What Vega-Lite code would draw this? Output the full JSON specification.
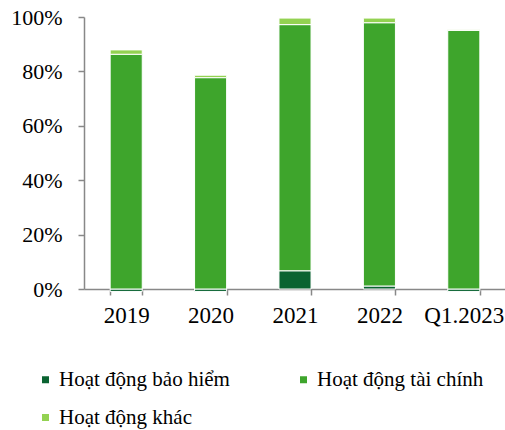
{
  "$schema": "https://vega.github.io/schema/vega-lite/v6.json",
  "width": 422,
  "height": 272,
  "autosize": {"type": "none"},
  "padding": {"left": 84, "top": 17, "right": 0, "bottom": 141},
  "background": "white",
  "config": {
    "view": {"stroke": null},
    "font": "Liberation Serif",
    "legend": {"labelFont": "Liberation Serif"}
  },
  "data": {
    "values": [
      {"year": "2019", "series": "Hoạt động bảo hiểm", "ord": 1, "value": -0.9},
      {"year": "2019", "series": "Hoạt động tài chính", "ord": 2, "value": 86.3},
      {"year": "2019", "series": "Hoạt động khác", "ord": 3, "value": 1.6},
      {"year": "2020", "series": "Hoạt động bảo hiểm", "ord": 1, "value": -0.9},
      {"year": "2020", "series": "Hoạt động tài chính", "ord": 2, "value": 77.7},
      {"year": "2020", "series": "Hoạt động khác", "ord": 3, "value": 0.9},
      {"year": "2021", "series": "Hoạt động bảo hiểm", "ord": 1, "value": 6.7},
      {"year": "2021", "series": "Hoạt động tài chính", "ord": 2, "value": 90.5},
      {"year": "2021", "series": "Hoạt động khác", "ord": 3, "value": 2.4},
      {"year": "2022", "series": "Hoạt động bảo hiểm", "ord": 1, "value": 1.1},
      {"year": "2022", "series": "Hoạt động tài chính", "ord": 2, "value": 96.8},
      {"year": "2022", "series": "Hoạt động khác", "ord": 3, "value": 1.7},
      {"year": "Q1.2023", "series": "Hoạt động bảo hiểm", "ord": 1, "value": -0.9},
      {"year": "Q1.2023", "series": "Hoạt động tài chính", "ord": 2, "value": 95.1},
      {"year": "Q1.2023", "series": "Hoạt động khác", "ord": 3, "value": 0.2}
    ]
  },
  "mark": {"type": "bar", "stroke": "white", "strokeWidth": 1},
  "encoding": {
    "x": {
      "field": "year",
      "type": "ordinal",
      "sort": null,
      "scale": {"paddingInner": 0.62, "paddingOuter": 0.31},
      "axis": {
        "title": null,
        "labelAngle": 0,
        "labelFont": "Liberation Serif",
        "labelFontSize": 23,
        "labelColor": "black",
        "labelPadding": 9,
        "domainColor": "#888888",
        "domainWidth": 1.5,
        "tickColor": "#888888",
        "tickWidth": 1.5,
        "tickSize": 6,
        "tickBand": "extent"
      }
    },
    "y": {
      "field": "value",
      "type": "quantitative",
      "stack": "zero",
      "scale": {"domain": [0, 100], "nice": false},
      "axis": {
        "title": null,
        "values": [0, 20, 40, 60, 80, 100],
        "labelExpr": "datum.value + '%'",
        "labelFont": "Liberation Serif",
        "labelFontSize": 22,
        "labelColor": "black",
        "labelPadding": 16,
        "domainColor": "#888888",
        "domainWidth": 1.5,
        "tickColor": "#888888",
        "tickWidth": 1.5,
        "tickSize": 6,
        "grid": false
      }
    },
    "color": {
      "field": "series",
      "type": "nominal",
      "scale": {
        "domain": ["Hoạt động bảo hiểm", "Hoạt động tài chính", "Hoạt động khác"],
        "range": ["#0a6331", "#3ea52c", "#93d252"]
      },
      "legend": {
        "title": null,
        "orient": "none",
        "legendX": -49,
        "legendY": 352,
        "direction": "horizontal",
        "columns": 2,
        "columnPadding": 63,
        "rowPadding": 16,
        "symbolType": "square",
        "symbolSize": 49,
        "symbolStrokeWidth": 0,
        "labelFont": "Liberation Serif",
        "labelFontSize": 21,
        "labelColor": "black",
        "labelOffset": 3,
        "labelLimit": 300
      }
    },
    "order": {"field": "ord", "type": "quantitative"}
  }
}
